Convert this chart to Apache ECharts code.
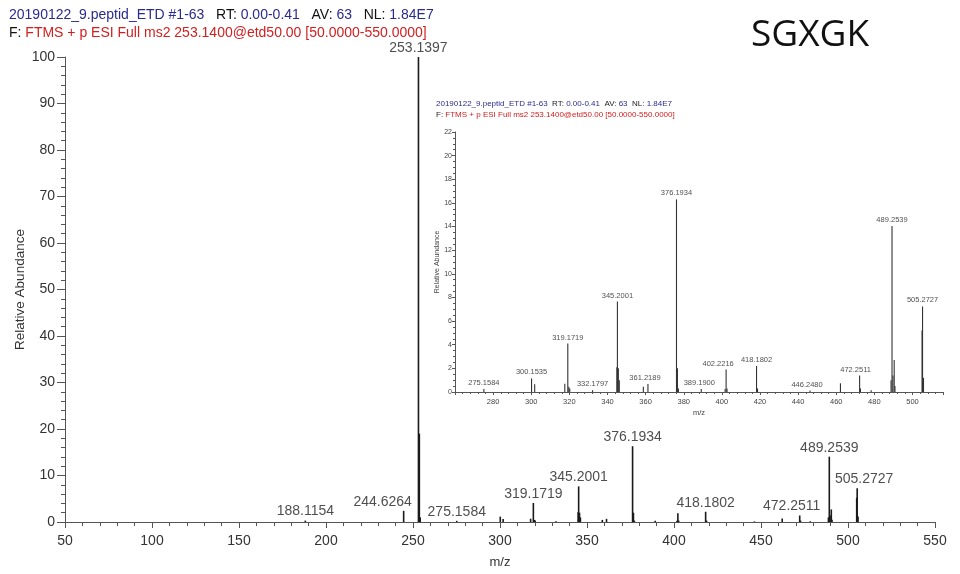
<!DOCTYPE html>
<html><head><meta charset="utf-8">
<script src="https://cdn.jsdelivr.net/npm/echarts@6/dist/echarts.min.js"></script>
<style>html,body{margin:0;padding:0;background:#fff}#c{width:960px;height:574px}</style>
</head><body><div id="c"></div>
<script>
// ---- data ----
var peakMz = [188.1154, 244.6264, 253.1397, 253.64, 254.14, 275.1584, 300.1535, 301.8, 317.6, 319.1719, 319.7, 320.2,
  332.1797, 344.9, 345.2001, 345.7, 346.2, 358.8, 361.2189, 376.1934, 376.69, 377.2, 389.19, 401.7, 402.2216, 402.7,
  418.1802, 418.7, 446.248, 462.2, 472.2511, 472.7, 478.3, 488.75, 489.2539, 489.75, 490.4, 490.8, 505.0, 505.2727, 505.77];
var peakInt = [0.3, 2.4, 100, 19, 1.0, 0.25, 1.15, 0.65, 0.7, 4.1, 0.45, 0.3,
  0.15, 2.1, 7.66, 2.0, 1.0, 0.45, 0.68, 16.3, 2.0, 0.3, 0.25, 0.25, 1.9, 0.3,
  2.2, 0.3, 0.12, 0.75, 1.4, 0.3, 0.15, 1.0, 14.05, 1.4, 2.7, 0.5, 5.2, 7.24, 1.2];
var mainLabels = ['188.1154', '244.6264', '253.1397', '275.1584', '319.1719', '345.2001', '376.1934', '418.1802', '472.2511', '489.2539', '505.2727'];
var insetLabels = ['275.1584', '300.1535', '319.1719', '332.1797', '345.2001', '361.2189', '376.1934', '389.1900', '402.2216', '418.1802', '446.2480', '472.2511', '489.2539', '505.2727'];
var headerLine1 = ['20190122_9.peptid_ETD #1-63', 'RT:', '0.00-0.41', 'AV:', '63', 'NL:', '1.84E7'];
var headerLine2 = ['F:', 'FTMS + p ESI Full ms2 253.1400@etd50.00 [50.0000-550.0000]'];
var mainXTicks = { min: 50, max: 550, interval: 50 };
var mainYTicks = { min: 0, max: 100, interval: 10 };
var insetXTicks = { min: 260, max: 516, interval: 20 };
var insetYTicks = { min: 0, max: 22, interval: 2 };

// ---- build ----
var peaks = peakMz.map(function (m, i) { return [m, peakInt[i]]; });
function labelPoints(list) {
  return list.map(function (t) {
    var m = parseFloat(t), best = 0, bd = 1e9;
    for (var i = 0; i < peakMz.length; i++) { var d = Math.abs(peakMz[i] - m); if (d < bd) { bd = d; best = i; } }
    return [peakMz[best], peakInt[best], t];
  });
}
var mainLabelOffsets = { '244.6264': [-21, 0], '472.2511': [-8, 0], '505.2727': [7, 0] };
var insetLabelOffsets = { '402.2216': [-8, 0], '446.2480': [-3, 0], '472.2511': [-4, 0], '361.2189': [-3, 0], '389.1900': [-2, 0] };

var FONT = 'Liberation Sans, Arial, sans-serif';
function stick(color, width) {
  return function (params, api) {
    var p0 = api.coord([api.value(0), 0]);
    var p1 = api.coord([api.value(0), api.value(1)]);
    return { type: 'line', shape: { x1: p0[0], y1: p0[1], x2: p1[0], y2: p1[1] },
      style: { stroke: color, lineWidth: width } };
  };
}
function lblSeries(xi, yi, list, offs, size) {
  return {
    type: 'scatter', xAxisIndex: xi, yAxisIndex: yi, symbolSize: 0, silent: true, z: 5,
    data: labelPoints(list).map(function (d) {
      return { value: d, label: { offset: offs[d[2]] || [0, 0] } };
    }),
    label: { show: true, position: 'top', distance: 2, formatter: function (p) { return p.data.value[2]; },
      fontSize: size, color: '#222', fontFamily: FONT }
  };
}
function axisCommon(fs, color) {
  return { axisLine: { lineStyle: { color: '#555', width: 1 } },
    splitLine: { show: false }, nameMoveOverlap: false,
    axisLabel: { fontSize: fs, color: color, fontFamily: FONT } };
}

var chart = echarts.init(document.getElementById('c'));
var option = {
  animation: false,
  grid: [
    { left: 65, top: 57, width: 870, height: 466 },
    { left: 455, top: 132, width: 488, height: 260 }
  ],
  xAxis: [
    Object.assign(axisCommon(14, '#333'), { type: 'value', gridIndex: 0, min: mainXTicks.min, max: mainXTicks.max, interval: mainXTicks.interval,
      axisTick: { length: 6, lineStyle: { color: '#555' } }, minorTick: { show: true, splitNumber: 5, length: 4, lineStyle: { color: '#555' } },
      axisLabel: { fontSize: 14, color: '#333', margin: 12, fontFamily: FONT },
      name: 'm/z', nameLocation: 'middle', nameGap: 34, nameTextStyle: { fontSize: 13, color: '#333', fontFamily: FONT } }),
    Object.assign(axisCommon(7.5, '#444'), { type: 'value', gridIndex: 1, min: insetXTicks.min, max: insetXTicks.max, interval: insetXTicks.interval,
      axisTick: { length: 3, lineStyle: { color: '#555' } }, minorTick: { show: true, splitNumber: 5, length: 2, lineStyle: { color: '#555' } },
      axisLabel: { fontSize: 7.5, color: '#444', margin: 6, showMinLabel: false, showMaxLabel: false, fontFamily: FONT },
      name: 'm/z', nameLocation: 'middle', nameGap: 17, nameTextStyle: { fontSize: 7.5, color: '#444', fontFamily: FONT } })
  ],
  yAxis: [
    Object.assign(axisCommon(14, '#333'), { type: 'value', gridIndex: 0, min: mainYTicks.min, max: mainYTicks.max, interval: mainYTicks.interval,
      axisLine: { show: true, lineStyle: { color: '#555' } },
      axisTick: { show: true, length: 8, lineStyle: { color: '#555' } }, minorTick: { show: true, splitNumber: 5, length: 4, lineStyle: { color: '#555' } },
      axisLabel: { fontSize: 14, color: '#333', margin: 10, fontFamily: FONT },
      name: 'Relative Abundance', nameLocation: 'middle', nameGap: 38, nameTextStyle: { fontSize: 13.5, color: '#333', fontFamily: FONT } }),
    Object.assign(axisCommon(7, '#444'), { type: 'value', gridIndex: 1, min: insetYTicks.min, max: insetYTicks.max, interval: insetYTicks.interval,
      axisLine: { show: true, lineStyle: { color: '#555' } },
      axisTick: { show: true, length: 3, lineStyle: { color: '#555' } }, minorTick: { show: true, splitNumber: 4, length: 2, lineStyle: { color: '#555' } },
      axisLabel: { fontSize: 7, color: '#444', margin: 3, fontFamily: FONT },
      name: 'Relative Abundance', nameLocation: 'middle', nameGap: 14, nameTextStyle: { fontSize: 7, color: '#444', fontFamily: FONT } })
  ],
  series: [
    { type: 'custom', xAxisIndex: 0, yAxisIndex: 0, renderItem: stick('#1a1a1a', 1.6), data: peaks, clip: true, silent: true },
    { type: 'custom', xAxisIndex: 1, yAxisIndex: 1, renderItem: stick('#333', 1.1),
      data: peaks.filter(function (p) { return p[0] >= insetXTicks.min && p[0] <= insetXTicks.max; }), clip: true, silent: true },
    lblSeries(0, 0, mainLabels, mainLabelOffsets, 14),
    lblSeries(1, 1, insetLabels, insetLabelOffsets, 7.5)
  ],
  graphic: [
    { type: 'text', left: 9, top: 8, style: {
      text: '{b|' + headerLine1[0] + '}   {k|' + headerLine1[1] + '} {b|' + headerLine1[2] + '}   {k|' + headerLine1[3] + '} {b|' + headerLine1[4] + '}   {k|' + headerLine1[5] + '} {b|' + headerLine1[6] + '}',
      font: '14px ' + FONT,
      rich: { b: { fill: '#2b2b8f', fontSize: 14, fontFamily: FONT }, k: { fill: '#111', fontSize: 14, fontFamily: FONT } } } },
    { type: 'text', left: 9, top: 26, style: {
      text: '{k|' + headerLine2[0] + '} {r|' + headerLine2[1] + '}',
      font: '14px ' + FONT,
      rich: { r: { fill: '#d02020', fontSize: 14, fontFamily: FONT }, k: { fill: '#111', fontSize: 14, fontFamily: FONT } } } },
    { type: 'text', left: 436, top: 100, style: {
      text: '{b|' + headerLine1[0] + '}  {k|' + headerLine1[1] + '} {b|' + headerLine1[2] + '}  {k|' + headerLine1[3] + '} {b|' + headerLine1[4] + '}  {k|' + headerLine1[5] + '} {b|' + headerLine1[6] + '}',
      font: '8px ' + FONT,
      rich: { b: { fill: '#2b2b8f', fontSize: 8, fontFamily: FONT }, k: { fill: '#222', fontSize: 8, fontFamily: FONT } } } },
    { type: 'text', left: 436, top: 111, style: {
      text: '{k|' + headerLine2[0] + '} {r|' + headerLine2[1] + '}',
      font: '8px ' + FONT,
      rich: { r: { fill: '#d02020', fontSize: 8, fontFamily: FONT }, k: { fill: '#222', fontSize: 8, fontFamily: FONT } } } },
    { type: 'text', style: { x: 751, y: 35, verticalAlign: 'middle', text: 'SGXGK', fill: '#111', font: '37px "Open Sans", sans-serif' } }
  ]
};
chart.setOption(option);
</script>
</body></html>
